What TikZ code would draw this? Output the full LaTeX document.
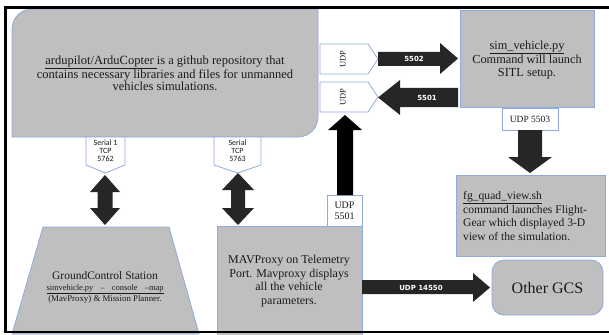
\documentclass[tikz,border=0pt]{standalone}
\usepackage{fontspec}
\setmainfont{Liberation Serif}
\newfontfamily\calib{Carlito}
\newfontfamily\djv{DejaVu Sans}
\definecolor{boxgray}{HTML}{BFBFBF}
\definecolor{edgeblue}{HTML}{8FAADC}
\definecolor{arrdark}{HTML}{262626}
\definecolor{txt}{HTML}{1A1A1A}
\tikzset{
  graybox/.style={fill=boxgray, draw=edgeblue, line width=0.8pt},
  whitebox/.style={fill=white, draw=edgeblue, line width=0.8pt},
  blockarrow/.style={fill=arrdark},
  arrlabel/.style={text=white, font=\djv\bfseries\fontsize{7}{7}\selectfont, inner sep=0pt},
  smalllabel/.style={text=txt, font=\calib\fontsize{8}{8.2}\selectfont, align=center, inner sep=0pt},
  frameline/.style={line width=2.4pt, black},
}
\begin{document}
\begin{tikzpicture}[x=1pt,y=-1pt]
\useasboundingbox (0,0) rectangle (609,334);

% main repository box
\path[graybox] (12,137) -- (12,29) .. controls (12,18) and (21,9) .. (32,9) -- (318,9) -- (318,117) .. controls (318,128) and (309,137) .. (298,137) -- cycle;
\node[text=txt, align=center, font=\fontsize{12.5}{11.8}\selectfont, inner sep=0pt] (ardu) at (165,73)
  {\underline{ardupilot/ArduCopter\ }is a github repository that\\contains necessary libraries and files for unmanned\\vehicles simulations.};

% serial pentagons
\path[whitebox] (86,137) -- (125,137) -- (125,165) -- (105.5,173) -- (86,165) -- cycle;
\node[smalllabel] (ser1) at (105.5,151) {Serial 1\\TCP\\5762};
\path[whitebox] (214,137) -- (261,137) -- (261,165) -- (237.5,173) -- (214,165) -- cycle;
\node[smalllabel] (ser2) at (237.5,151) {Serial\\TCP\\5763};

% double arrows
\fill[blockarrow] (105,175) -- (120,192) -- (112.5,192) -- (112.5,208) -- (120,208) -- (105,225) -- (90,208) -- (97.5,208) -- (97.5,192) -- (90,192) -- cycle;
\fill[blockarrow] (238,173) -- (254,190) -- (245,190) -- (245,208) -- (254,208) -- (238,225) -- (222,208) -- (231,208) -- (231,190) -- (222,190) -- cycle;

% ground control trapezoid
\path[graybox] (43,227) -- (169,227) -- (199,334) -- (12,334) -- cycle;
\node[text=txt, anchor=base, font=\fontsize{11.5}{12}\selectfont, inner sep=0pt] (gcs1) at (105,279) {GroundControl Station};
\node[text=txt, anchor=base, font=\fontsize{8.4}{9}\selectfont, inner sep=0pt] (gcs2) at (105,290) {\underline{\makebox[117pt][s]{simvehicle.py \ – \ console \ –map}}};
\node[text=txt, anchor=base, font=\fontsize{8.8}{9}\selectfont, inner sep=0pt] (gcs3) at (105,301.5) {(MavProxy) \& Mission Planner.};

% MAVProxy box
\path[graybox] (217,226) rectangle (362,340);
\node[text=txt, align=center, font=\fontsize{12}{13.6}\selectfont, inner sep=0pt] (mav) at (289,281)
  {MAVProxy on Telemetry\\Port. Mavproxy displays\\all the vehicle\\parameters.};

% UDP 5501 label box and up arrow
\path[whitebox] (327,195) rectangle (362,226);
\node[text=txt, align=center, font=\fontsize{10}{11}\selectfont, inner sep=0pt] (u5501) at (344.5,211) {UDP\\5501};
\fill[black] (337,195) -- (337,130) -- (328,130) -- (345,115) -- (362,130) -- (353,130) -- (353,195) -- cycle;

% UDP pentagons
\path[whitebox] (320,44) -- (368,44) -- (378,59) -- (368,74) -- (320,74) -- cycle;
\node[text=txt, rotate=90, font=\fontsize{8.5}{9}\selectfont, inner sep=0pt] (udpa) at (343,59) {UDP};
\path[whitebox] (320,82) -- (368,82) -- (378,97) -- (368,112) -- (320,112) -- cycle;
\node[text=txt, rotate=90, font=\fontsize{8.5}{9}\selectfont, inner sep=0pt] (udpb) at (343,97) {UDP};

% 5502 and 5501 arrows
\fill[blockarrow] (378,52) -- (440,52) -- (440,43) -- (458,58.5) -- (440,74) -- (440,66) -- (378,66) -- cycle;
\node[arrlabel] (l5502) at (414,59) {5502};
\fill[blockarrow] (458,88) -- (400,88) -- (400,80) -- (378,97.5) -- (400,115) -- (400,107) -- (458,107) -- cycle;
\node[arrlabel] (l5501) at (427,97.5) {5501};

% sim_vehicle box
\path[graybox] (460,10) rectangle (594,107);
\node[text=txt, align=center, font=\fontsize{12.3}{13}\selectfont, inner sep=0pt] (sim) at (527,60)
  {\underline{sim\_vehicle.py}\\Command will launch\\SITL setup.};

% UDP 5503 box and down arrow
\path[whitebox] (502,108) rectangle (558,130);
\node[text=txt, font=\fontsize{9.5}{10}\selectfont, inner sep=0pt] (u5503) at (530,119) {UDP 5503};
\fill[blockarrow] (518,130) -- (542,130) -- (542,157) -- (552,157) -- (530,173) -- (508,157) -- (518,157) -- cycle;

% fg_quad_view box
\path[graybox] (456,175) rectangle (605,256);
\node[text=txt, anchor=west, align=left, font=\fontsize{11.6}{13.7}\selectfont, inner sep=0pt] (fg) at (463,216)
  {\underline{fg\_quad\_view.sh}\\command launches Flight-\\Gear which displayed 3-D\\view of the simulation.};

% Other GCS
\path[graybox, rounded corners=12pt] (492,260) rectangle (603,315);
\node[text=txt, font=\fontsize{16}{17}\selectfont, inner sep=0pt] (ogcs) at (547.5,288) {Other GCS};

% UDP 14550 arrow
\fill[blockarrow] (362,280) -- (473,280) -- (473,273) -- (490,287.5) -- (473,302) -- (473,294) -- (362,294) -- cycle;
\node[arrlabel] (l14550) at (421,287.5) {UDP 14550};

% frame
\draw[frameline] (5.5,333) -- (5.5,7.7) -- (609,7.7);
\draw[frameline] (4.3,332) -- (609,332);
\end{tikzpicture}
\end{document}
